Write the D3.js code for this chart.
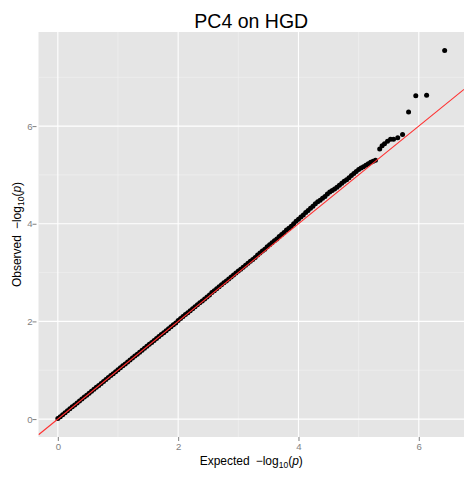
<!DOCTYPE html>
<html>
<head>
<meta charset="utf-8">
<script src="https://cdn.jsdelivr.net/npm/d3@7"></script>
<style>
  body { margin: 0; background: #ffffff; }
  svg text { font-family: "Liberation Sans", Arial, Helvetica, sans-serif; }
</style>
</head>
<body>
<script>
// Expected vs observed -log10(p) quantiles (bulk of the distribution, then the extreme tail)
const expected = [
  0.00, 0.04, 0.08, 0.12, 0.16, 0.20, 0.24, 0.28, 0.32, 0.36,
  0.40, 0.44, 0.48, 0.52, 0.56, 0.60, 0.64, 0.68, 0.72, 0.76,
  0.80, 0.84, 0.88, 0.92, 0.96, 1.00, 1.04, 1.08, 1.12, 1.16,
  1.20, 1.24, 1.28, 1.32, 1.36, 1.40, 1.44, 1.48, 1.52, 1.56,
  1.60, 1.64, 1.68, 1.72, 1.76, 1.80, 1.84, 1.88, 1.92, 1.96,
  2.00, 2.04, 2.08, 2.12, 2.16, 2.20, 2.24, 2.28, 2.32, 2.36,
  2.40, 2.44, 2.48, 2.52, 2.56, 2.60, 2.64, 2.68, 2.72, 2.76,
  2.80, 2.84, 2.88, 2.92, 2.96, 3.00, 3.04, 3.08, 3.12, 3.16,
  3.20, 3.24, 3.28, 3.32, 3.36, 3.40, 3.44, 3.48, 3.52, 3.56,
  3.60, 3.64, 3.68, 3.72, 3.76, 3.80, 3.84, 3.88, 3.92, 3.96,
  4.00, 4.04, 4.08, 4.12, 4.16, 4.20, 4.24, 4.28, 4.32, 4.36,
  4.40, 4.44, 4.48, 4.52, 4.56, 4.60, 4.64, 4.68, 4.72, 4.76,
  4.80, 4.84, 4.88, 4.92, 4.96, 5.00, 5.04, 5.08, 5.12, 5.16,
  5.20, 5.24, 5.28,
  5.35, 5.39, 5.43, 5.48, 5.53, 5.58, 5.65, 5.73, 5.83, 5.95, 6.13, 6.43
];
const observed = [
  0.01, 0.05, 0.09, 0.13, 0.17, 0.21, 0.25, 0.29, 0.33, 0.37,
  0.41, 0.45, 0.49, 0.53, 0.57, 0.61, 0.65, 0.69, 0.73, 0.77,
  0.81, 0.85, 0.89, 0.93, 0.97, 1.01, 1.05, 1.09, 1.13, 1.17,
  1.21, 1.25, 1.29, 1.33, 1.37, 1.41, 1.45, 1.49, 1.53, 1.57,
  1.61, 1.65, 1.69, 1.73, 1.77, 1.81, 1.85, 1.89, 1.93, 1.97,
  2.02, 2.06, 2.10, 2.14, 2.18, 2.22, 2.26, 2.30, 2.34, 2.38,
  2.42, 2.46, 2.50, 2.54, 2.59, 2.63, 2.67, 2.71, 2.75, 2.79,
  2.83, 2.87, 2.91, 2.95, 2.99, 3.03, 3.07, 3.11, 3.15, 3.19,
  3.23, 3.27, 3.31, 3.36, 3.40, 3.44, 3.48, 3.53, 3.57, 3.61,
  3.65, 3.69, 3.74, 3.78, 3.82, 3.87, 3.91, 3.95, 4.00, 4.05,
  4.09, 4.14, 4.18, 4.23, 4.27, 4.32, 4.36, 4.41, 4.45, 4.48,
  4.52, 4.56, 4.61, 4.65, 4.68, 4.71, 4.75, 4.79, 4.83, 4.87,
  4.90, 4.94, 4.99, 5.03, 5.07, 5.11, 5.14, 5.17, 5.20, 5.23,
  5.26, 5.28, 5.30,
  5.53, 5.60, 5.64, 5.69, 5.73, 5.73, 5.76, 5.83, 6.29, 6.62, 6.63, 7.55
];
const xTicks = [0, 2, 4, 6];
const yTicks = [0, 2, 4, 6];
const xMinorTicks = [1, 3, 5];
const yMinorTicks = [1, 3, 5, 7];
const titleText = "PC4 on HGD";

const W = 467, H = 479;
const panel = { left: 38.5, right: 464, top: 32, bottom: 437 };

const svg = d3.select("body").append("svg")
  .attr("width", W).attr("height", H);

// Domains padded 5% beyond the data range on each side
const xExt = d3.extent(expected), yExt = d3.extent(observed);
const xPad = (xExt[1] - xExt[0]) * 0.05, yPad = (yExt[1] - yExt[0]) * 0.05;
const x = d3.scaleLinear().domain([xExt[0] - xPad, xExt[1] + xPad]).range([panel.left, panel.right]);
const y = d3.scaleLinear().domain([yExt[0] - yPad, yExt[1] + yPad]).range([panel.bottom, panel.top]);

// Panel background
svg.append("rect")
  .attr("x", panel.left).attr("y", panel.top)
  .attr("width", panel.right - panel.left).attr("height", panel.bottom - panel.top)
  .attr("fill", "#E5E5E5");

const grid = svg.append("g");
// Minor grid
grid.selectAll("line.vminor").data(xMinorTicks).join("line")
  .attr("x1", d => x(d)).attr("x2", d => x(d))
  .attr("y1", panel.top).attr("y2", panel.bottom)
  .attr("stroke", "#F2F2F2").attr("stroke-width", 0.6);
grid.selectAll("line.hminor").data(yMinorTicks).join("line")
  .attr("y1", d => y(d)).attr("y2", d => y(d))
  .attr("x1", panel.left).attr("x2", panel.right)
  .attr("stroke", "#F2F2F2").attr("stroke-width", 0.6);
// Major grid
grid.selectAll("line.vmajor").data(xTicks).join("line")
  .attr("x1", d => x(d)).attr("x2", d => x(d))
  .attr("y1", panel.top).attr("y2", panel.bottom)
  .attr("stroke", "#FFFFFF").attr("stroke-width", 1.1);
grid.selectAll("line.hmajor").data(yTicks).join("line")
  .attr("y1", d => y(d)).attr("y2", d => y(d))
  .attr("x1", panel.left).attr("x2", panel.right)
  .attr("stroke", "#FFFFFF").attr("stroke-width", 1.1);

// Points
const pts = expected.map((e, i) => ({ e, o: observed[i] }));
svg.append("g").selectAll("circle").data(pts).join("circle")
  .attr("cx", d => x(d.e)).attr("cy", d => y(d.o))
  .attr("r", 2.5).attr("fill", "#000000");

// Reference line y = x across the panel
const clipId = "panel-clip";
svg.append("clipPath").attr("id", clipId).append("rect")
  .attr("x", panel.left).attr("y", panel.top)
  .attr("width", panel.right - panel.left).attr("height", panel.bottom - panel.top);
const xd = x.domain();
svg.append("line")
  .attr("clip-path", `url(#${clipId})`)
  .attr("x1", x(xd[0])).attr("y1", y(xd[0]))
  .attr("x2", x(xd[1])).attr("y2", y(xd[1]))
  .attr("stroke", "#FF3030").attr("stroke-width", 1.1);

// Axes
const xAxis = svg.append("g")
  .attr("transform", `translate(0,${panel.bottom})`)
  .call(d3.axisBottom(x).tickValues(xTicks).tickFormat(d3.format("d")).tickSize(4).tickPadding(2));
const yAxis = svg.append("g")
  .attr("transform", `translate(${panel.left},0)`)
  .call(d3.axisLeft(y).tickValues(yTicks).tickFormat(d3.format("d")).tickSize(4).tickPadding(2));
[xAxis, yAxis].forEach(a => {
  a.select(".domain").remove();
  a.selectAll(".tick line").attr("stroke", "#7F7F7F");
  a.selectAll(".tick text").attr("fill", "#7F7F7F").style("font-size", "9.6px");
});
yAxis.selectAll(".tick line").attr("transform", "translate(-2,0)");

// Axis titles with -log10(p)
function logLabel(sel, word) {
  sel.append("tspan").text(word);
  sel.append("tspan").attr("dx", 6).text("\u2212log");
  sel.append("tspan").attr("font-size", "8.5px").attr("dy", 3).text("10");
  sel.append("tspan").attr("dy", -3).text("(");
  sel.append("tspan").attr("font-style", "italic").text("p");
  sel.append("tspan").text(")");
}
const cx = (panel.left + panel.right) / 2;
const cy = (panel.top + panel.bottom) / 2;
svg.append("text")
  .attr("x", cx).attr("y", 465)
  .attr("text-anchor", "middle")
  .style("font-size", "12px").attr("fill", "#000")
  .call(logLabel, "Expected");
svg.append("text")
  .attr("transform", `translate(21,${cy}) rotate(-90)`)
  .attr("text-anchor", "middle")
  .style("font-size", "12px").attr("fill", "#000")
  .call(logLabel, "Observed");

// Title
svg.append("text")
  .attr("x", cx).attr("y", 28)
  .attr("text-anchor", "middle")
  .style("font-size", "19.5px").attr("fill", "#000")
  .text(titleText);
</script>
</body>
</html>
